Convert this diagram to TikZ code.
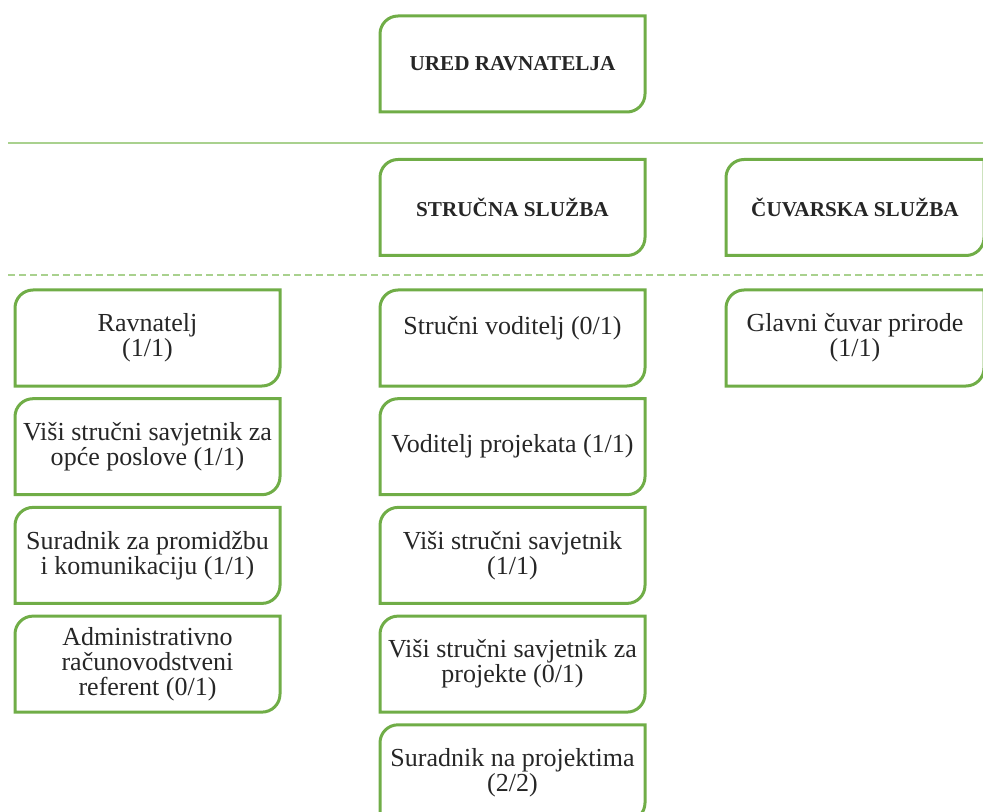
\documentclass[tikz,border=0pt]{standalone}
\usepackage{fontspec}
\setmainfont{Liberation Serif}
\usetikzlibrary{positioning}
\definecolor{boxgreen}{HTML}{70AD47}
\definecolor{rulegreen}{HTML}{A9D18E}
\definecolor{txtgray}{HTML}{262626}

\begin{document}
\begin{tikzpicture}[x=0.5pt, y=-0.5pt, node distance=6.35pt,
  every node/.style={text=txtgray},
  unit/.style={minimum width=132.5pt, minimum height=48pt, inner sep=0pt, outer sep=0pt,
    align=center, font=\fontsize{13}{12.5}\selectfont},
  head/.style={unit, font=\fontsize{10.6}{12.5}\selectfont\bfseries},
  frame/.style={draw=boxgreen, line width=1.5pt},
  sepline/.style={draw=rulegreen, line width=1pt}]
\useasboundingbox (0,0) rectangle (983,812);

% top level
\node[head] (ured) at (512.5,64) {URED RAVNATELJA};
\draw[sepline] (8,143) -- (983,143);

% services
\node[head] (struc) at (512.5,207.5) {STRUČNA SLUŽBA};
\node[head, minimum width=129pt] (cuvar) at (855,207.5) {ČUVARSKA SLUŽBA};
\draw[sepline, dash pattern=on 3.5pt off 2pt] (8,275) -- (983,275);

% office of the director
\node[unit] (ravn) at (147.5,338) {Ravnatelj\\(1/1)};
\node[unit, below=of ravn] (opce) {Viši stručni savjetnik za\\opće poslove (1/1)};
\node[unit, below=of opce] (promo) {Suradnik za promidžbu\\i komunikaciju (1/1)};
\node[unit, below=of promo] (admin) {Administrativno\\računovodstveni\\referent (0/1)};

% professional service
\node[unit] (svod) at (512.5,338) {Stručni voditelj (0/1)\\\mbox{}};
\node[unit, below=of svod] (vproj) {Voditelj projekata (1/1)};
\node[unit, below=of vproj] (vss) {Viši stručni savjetnik\\(1/1)};
\node[unit, below=of vss] (vssp) {Viši stručni savjetnik za\\projekte (0/1)};
\node[unit, below=of vssp] (surp) {Suradnik na projektima\\(2/2)};

% ranger service
\node[unit, minimum width=129pt] (glav) at (855,338) {Glavni čuvar prirode\\(1/1)};

\foreach \n in {ured,struc,cuvar,ravn,opce,promo,admin,svod,vproj,vss,vssp,surp,glav}
  \draw[frame] ([yshift=-9pt]\n.north west) arc[start angle=180, end angle=90, radius=9pt]
    -- (\n.north east) -- ([yshift=9pt]\n.south east)
    arc[start angle=0, end angle=-90, radius=9pt] -- (\n.south west) -- cycle;
\end{tikzpicture}
\end{document}
